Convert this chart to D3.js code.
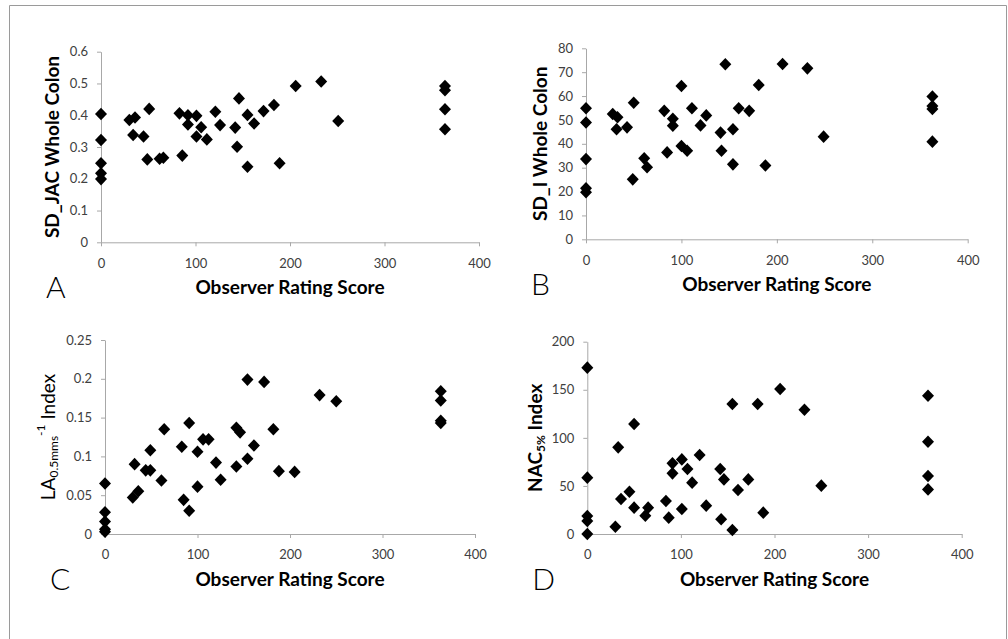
<!DOCTYPE html>
<html>
<head>
<meta charset="utf-8">
<script src="https://cdn.jsdelivr.net/npm/d3@7"></script>
<style>
  body { margin: 0; background: #fff; }
  svg { display: block; font-family: Lato, "Open Sans", sans-serif; }
</style>
</head>
<body>
<script>
// observer rating score (x) and measured value (y) for each panel
var scoreA = [0,0,0,0,0,30,36,34,45,51,49,62,66,83,86,92,92,101,101,106,112,121,126,142,146,144,155,155,162,172,183,189,206,233,251,364,364,364,364];
var jacA   = [0.404,0.322,0.249,0.217,0.199,0.385,0.393,0.338,0.333,0.42,0.261,0.263,0.266,0.406,0.273,0.40,0.371,0.398,0.333,0.362,0.324,0.411,0.369,0.361,0.453,0.301,0.401,0.238,0.374,0.413,0.432,0.249,0.492,0.506,0.382,0.492,0.479,0.419,0.356];

var scoreB = [0,0,0,0,0,28,33,32,43,50,49,61,64,82,85,91,91,100,100,106,111,120,126,141,142,146,154,154,160,171,181,188,206,232,249,363,363,363,363];
var sdIB   = [54.9,48.9,33.6,21.4,19.7,52.5,51.1,46.1,46.9,57.2,25.1,33.9,30.2,53.8,36.4,50.5,47.6,64.2,39.1,37.1,54.9,47.7,51.9,44.7,37.1,73.3,46.1,31.4,54.9,53.8,64.6,30.9,73.4,71.6,43.0,59.8,55.8,54.6,40.9];

var scoreC = [0,0,0,0,0,30,36,32,44,49,49,61,64,83,85,91,91,100,100,106,112,120,125,142,146,142,154,154,161,172,182,188,205,232,250,363,363,363,363];
var laC    = [0.065,0.028,0.016,0.006,0.003,0.047,0.055,0.090,0.082,0.108,0.082,0.069,0.135,0.1125,0.044,0.143,0.030,0.106,0.061,0.122,0.122,0.092,0.070,0.137,0.131,0.087,0.199,0.097,0.114,0.196,0.135,0.081,0.080,0.179,0.171,0.184,0.172,0.146,0.143];

var scoreD = [0,0,0,0,0,30,33,36,45,50,50,62,65,84,87,91,91,101,101,107,112,120,127,142,143,146,155,155,161,172,182,188,206,232,250,364,364,364,364];
var nacD   = [173,58.6,18.7,13.5,0,7.6,90.1,36.4,44,114.4,27.4,19.1,27.4,34.3,17,73.5,63.1,77.6,26,67.6,53.4,82.1,29.5,67.6,15.3,56.8,135.2,4.2,45.8,56.8,135.2,22.2,150.8,129.3,50.3,143.8,96,60.3,46.4];

var xTicks  = [0, 100, 200, 300, 400];
var yTicksA = [0, 0.1, 0.2, 0.3, 0.4, 0.5, 0.6];
var yTicksB = [0, 10, 20, 30, 40, 50, 60, 70, 80];
var yTicksC = [0, 0.05, 0.1, 0.15, 0.2, 0.25];
var yTicksD = [0, 50, 100, 150, 200];

var xTitle = "Observer Rating Score";

var width = 1008, height = 639;

var svg = d3.select("body").append("svg")
    .attr("width", width)
    .attr("height", height);

// outer frame (no bottom edge visible)
svg.append("path")
    .attr("d", "M9.5," + height + "V5.5H1006.5V" + height)
    .attr("fill", "none")
    .attr("stroke", "#9a9a9a");

var panels = [
  {letter: "A", xs: scoreA, ys: jacA, yTicks: yTicksA, yMax: 0.6,
   left: 101, right: 479, top: 51.7, bottom: 242.3, labelX: 52,
   label: [{t: "SD_JAC Whole Colon"}], bold: true},
  {letter: "B", xs: scoreB, ys: sdIB, yTicks: yTicksB, yMax: 80,
   left: 586, right: 967.7, top: 48.3, bottom: 239.3, labelX: 540,
   label: [{t: "SD_I Whole Colon"}], bold: true},
  {letter: "C", xs: scoreC, ys: laC, yTicks: yTicksC, yMax: 0.25,
   left: 105, right: 475, top: 340, bottom: 534, labelX: 48,
   label: [{t: "LA"}, {t: "0.5mms", sub: true}, {t: "-1", sup: true}, {t: " Index"}], bold: false},
  {letter: "D", xs: scoreD, ys: nacD, yTicks: yTicksD, yMax: 200,
   left: 587.3, right: 961.7, top: 341.7, bottom: 534, labelX: 535,
   label: [{t: "NAC"}, {t: "5%", sub: true}, {t: " Index"}], bold: true}
];

var diamond = "M0,-6.3L6,0L0,6.3L-6,0Z";

panels.forEach(function(p) {
  var x = d3.scaleLinear().domain([0, 400]).range([p.left, p.right]);
  var y = d3.scaleLinear().domain([0, p.yMax]).range([p.bottom, p.top]);
  var g = svg.append("g");

  var ya = g.append("g")
      .attr("transform", "translate(" + p.left + ",0)")
      .call(d3.axisLeft(y).tickValues(p.yTicks).tickSize(4).tickSizeOuter(0).tickPadding(9)
        .tickFormat(function(d) { return +d.toFixed(3); }));

  var xa = g.append("g")
      .attr("transform", "translate(0," + p.bottom + ")")
      .call(d3.axisBottom(x).tickValues(xTicks).tickSize(4).tickSizeOuter(0).tickPadding(12));

  g.selectAll(".domain, .tick line").attr("stroke", "#a8a8a8");
  g.selectAll(".tick text")
      .attr("fill", "#404040")
      .style("font-size", "13px")
      .style("font-family", "Lato, 'Open Sans', sans-serif");

  g.selectAll(".pt")
      .data(p.xs.map(function(v, i) { return [v, p.ys[i]]; }))
      .enter().append("path")
      .attr("class", "pt")
      .attr("d", diamond)
      .attr("fill", "#000")
      .attr("transform", function(d) { return "translate(" + x(d[0]) + "," + y(d[1]) + ")"; });

  // x axis title
  g.append("text")
      .attr("x", (p.left + p.right) / 2)
      .attr("y", p.bottom + 52)
      .attr("text-anchor", "middle")
      .style("font-size", "19px")
      .style("font-weight", "bold")
      .text(xTitle);

  // panel letter
  g.append("text")
      .attr("x", p.left - 55)
      .attr("y", p.bottom + 56)
      .style("font-size", "30px")
      .style("font-weight", 300)
      .text(p.letter);

  // y axis title
  var yt = g.append("text")
      .attr("transform", "translate(" + p.labelX + "," + ((p.top + p.bottom) / 2) + ") rotate(-90)")
      .attr("text-anchor", "middle")
      .attr("dy", "0.35em")
      .style("font-size", "19px")
      .style("font-weight", p.bold ? "bold" : "normal");

  p.label.forEach(function(s) {
    var ts = yt.append("tspan").text(s.t);
    if (s.sub) ts.style("font-size", "12px").attr("baseline-shift", "-25%");
    if (s.sup) ts.style("font-size", "12px").attr("baseline-shift", "80%");
  });
});
</script>
</body>
</html>
